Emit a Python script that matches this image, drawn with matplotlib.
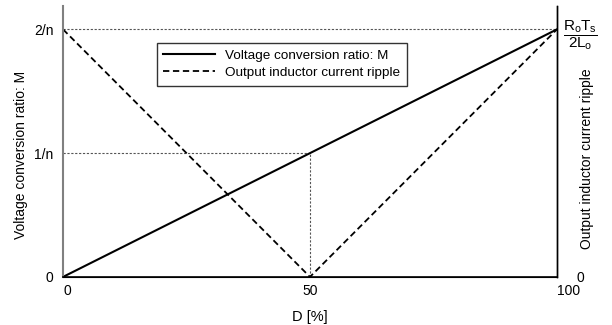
import matplotlib
matplotlib.use("Agg")
import matplotlib.pyplot as plt

plt.rcParams["font.family"] = ["Liberation Sans", "DejaVu Sans"]
plt.rcParams["mathtext.fontset"] = "custom"
plt.rcParams["mathtext.rm"] = "Liberation Sans"
plt.rcParams["mathtext.it"] = "Liberation Sans"

# данные
d = [0, 50, 100]
m = [0, 1, 2]          # M в единицах 1/n
ripple = [2, 0, 2]     # пульсации тока дросселя
y_ticks = [0, 1, 2]
y_labels = ["0", "1/n", "2/n"]
x_ticks = [0, 50, 100]
x_labels = ["0", "50", "100"]

fig = plt.figure(figsize=(6.12, 3.25), dpi=100)
ax = fig.add_axes([0.103, 0.148, 0.807, 0.834])

# вспомогательные линии
ax.plot([0, 100], [2, 2], color="#555555", lw=0.8, ls=(0, (2, 1.5)))
ax.plot([0, 50], [1, 1], color="#555555", lw=0.8, ls=(0, (2, 1.5)))
ax.plot([50, 50], [0, 1], color="#555555", lw=0.8, ls=(0, (2, 1.5)))

ax.plot(d, m, color="black", lw=1.5, label="Voltage conversion ratio: M")
ax.plot(d, ripple, color="black", lw=1.3, ls=(0, (3.5, 2)),
        label="Output inductor current ripple")

ax.set_xlim(0, 100)
ax.set_ylim(0, 2.19)
ax.set_xticks(x_ticks)
ax.set_xticklabels(x_labels, fontsize=10)
for lbl, ha in zip(ax.get_xticklabels(), ["left", "center", "left"]):
    lbl.set_horizontalalignment(ha)
ax.set_yticks(y_ticks)
ax.set_yticklabels(y_labels, fontsize=10)
ax.tick_params(axis="both", length=0)
ax.tick_params(axis="x", pad=5)
ax.tick_params(axis="y", pad=7)

ax.spines["top"].set_visible(False)
ax.spines["left"].set_color("#808080")
ax.spines["left"].set_linewidth(1.5)
ax.spines["bottom"].set_linewidth(1.2)
ax.spines["right"].set_linewidth(1.0)

ax.set_xlabel("D [%]", fontsize=10.5, labelpad=9)
ax.set_ylabel("Voltage conversion ratio: M", fontsize=10)
ax.yaxis.set_label_coords(-0.071, 0.45)

ax2 = ax.twinx()
ax2.set_ylim(0, 2.19)
ax2.set_yticks([0, 2])
ax2.set_yticklabels(["0", r"$\dfrac{R_oT_s}{2L_o}$"])
ax2.tick_params(axis="y", length=0, pad=17)
labels2 = ax2.get_yticklabels()
labels2[0].set_fontsize(10)
labels2[1].set_fontsize(11)
for lbl in labels2:
    lbl.set_horizontalalignment("center")
ax2.spines["top"].set_visible(False)
ax2.spines["left"].set_visible(False)
ax2.spines["right"].set_linewidth(1.0)
ax2.set_ylabel("Output inductor current ripple", fontsize=10)
ax2.yaxis.set_label_coords(1.047, 0.435)

leg = ax.legend(loc="upper left", bbox_to_anchor=(0.176, 0.889), fontsize=9.7,
                frameon=True, fancybox=False, edgecolor="black",
                handlelength=3.8, borderpad=0.5, labelspacing=0.35)
leg.get_frame().set_linewidth(1.0)

fig.savefig("out.png", dpi=100)
